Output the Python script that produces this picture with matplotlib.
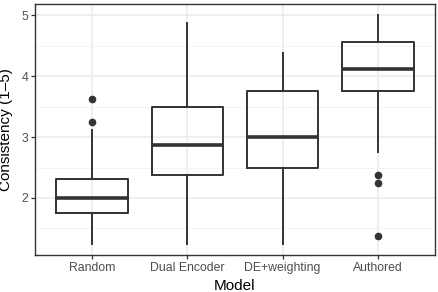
import matplotlib
matplotlib.use("Agg")
import matplotlib.pyplot as plt
import numpy as np

plt.rcParams['font.family'] = ['Liberation Sans', 'DejaVu Sans']

# box summary values
models = ['Random', 'Dual Encoder', 'DE+weighting', 'Authored']
whislo = [1.25, 1.25, 1.25, 2.75]
q1 = [1.75, 2.375, 2.5, 3.75]
med = [2.0, 2.875, 3.0, 4.125]
q3 = [2.3125, 3.5, 3.75, 4.5625]
whishi = [3.125, 4.875, 4.375, 5.0]
fliers = [[3.25, 3.625], [], [], [1.375, 2.25, 2.375]]

DARK = '#333333'
GRID = '#EBEBEB'

stats = []
for i in range(len(models)):
    stats.append(dict(label=models[i], whislo=whislo[i], q1=q1[i], med=med[i],
                      q3=q3[i], whishi=whishi[i], fliers=fliers[i]))

fig = plt.figure(figsize=(4.39, 2.92), dpi=100)
ax = fig.add_axes([35/439, 1-255/292, 400/439, 251/292])

ax.bxp(stats, positions=range(1, 5), widths=0.75, showcaps=False,
       boxprops=dict(color=DARK, linewidth=1.4),
       whiskerprops=dict(color=DARK, linewidth=1.4),
       medianprops=dict(color=DARK, linewidth=2.6, solid_capstyle='butt'),
       flierprops=dict(marker='o', markerfacecolor=DARK, markeredgecolor=DARK,
                       markersize=4.5),
       zorder=3)

ax.set_xlim(0.4, 4.6)
ax.set_ylim(1.0625, 5.1875)
ax.set_yticks([2, 3, 4, 5])
ax.set_yticks([1.5, 2.5, 3.5, 4.5], minor=True)
ax.set_xticks(range(1, 5))
ax.set_xticklabels(models)

ax.grid(True, which='major', color=GRID, linewidth=1.1, zorder=0)
ax.grid(True, which='minor', axis='y', color='#F2F2F2', linewidth=0.6, zorder=0)
ax.set_axisbelow(True)
for s in ax.spines.values():
    s.set_color(DARK)
    s.set_linewidth(1.0)

ax.tick_params(which='major', length=3, width=0.9, color=DARK,
               labelcolor='#4D4D4D', labelsize=8.8, pad=2)
ax.tick_params(which='minor', length=0)

ax.set_xlabel('Model', fontsize=11, color='black')
ax.set_ylabel('Consistency (1\u20135)', fontsize=11, color='black')
ax.xaxis.set_label_coords(0.5, -0.095)
ax.yaxis.set_label_coords(-0.055, 0.5)

fig.savefig('out.png', dpi=100)
